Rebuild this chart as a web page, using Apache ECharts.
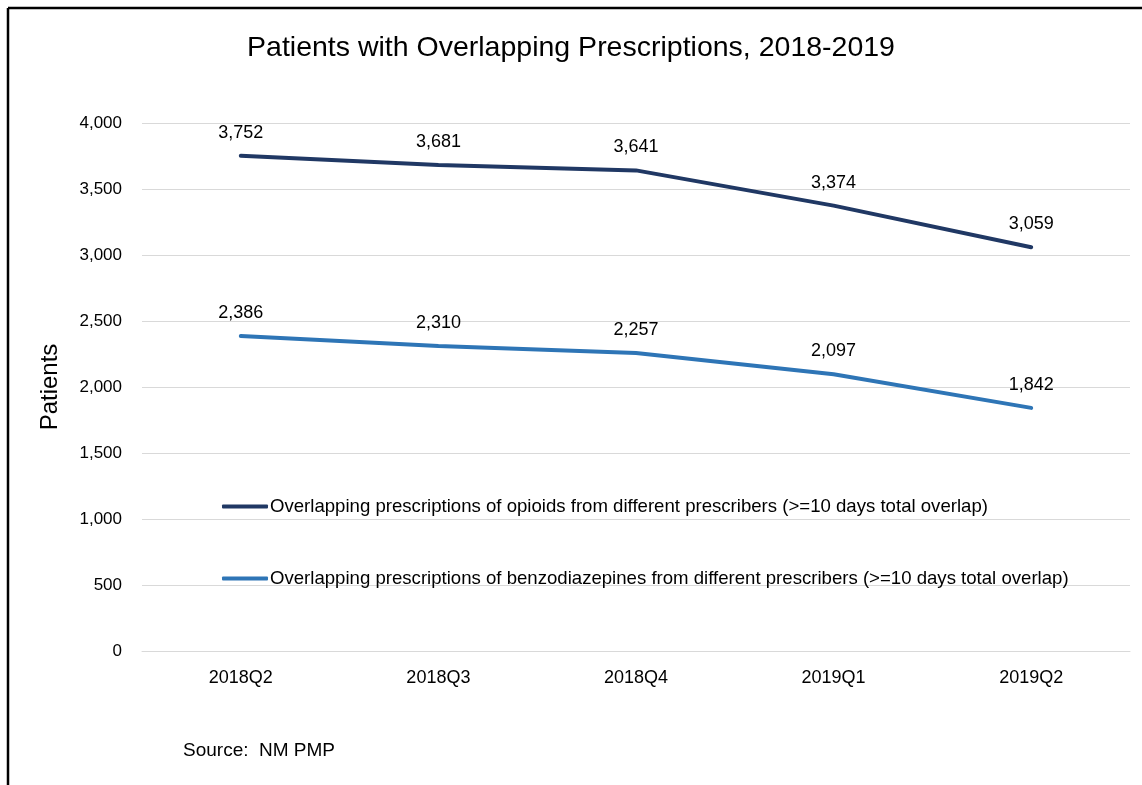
<!DOCTYPE html>
<html>
<head>
<meta charset="utf-8">
<script src="https://cdn.jsdelivr.net/npm/echarts@6/dist/echarts.min.js"></script>
<style>
  html, body { margin: 0; padding: 0; background: #fff; }
  #chart { width: 1142px; height: 785px; }
</style>
</head>
<body>
<div id="chart"></div>
<script>
// quarters on the x axis
const quarters = ['2018Q2', '2018Q3', '2018Q4', '2019Q1', '2019Q2']
const opioidName = 'Overlapping prescriptions of opioids from different prescribers (>=10 days total overlap)'
const benzoName = 'Overlapping prescriptions of benzodiazepines from different prescribers (>=10 days total overlap)'
const opioidValues = [3752, 3681, 3641, 3374, 3059]
const benzoValues = [2386, 2310, 2257, 2097, 1842]

const font = 'Liberation Sans'
const fmt = function (v) { return v.toLocaleString('en-US') }

let myChart = echarts.init(document.getElementById('chart'))
myChart.setOption({
  backgroundColor: '#fff',
  animation: false,
  textStyle: { fontFamily: font },
  title: {
    text: 'Patients with Overlapping Prescriptions, 2018-2019',
    left: 'center',
    top: 29,
    textStyle: { fontSize: 28.5, fontWeight: 'normal', color: '#000', fontFamily: font }
  },
  grid: { left: 142, right: 12, top: 123, bottom: 134, containLabel: false },
  legend: {
    orient: 'vertical',
    left: 217,
    top: 492,
    itemWidth: 46,
    itemHeight: 4,
    itemGap: 53,
    icon: 'roundRect',
    textStyle: { fontSize: 18.6, color: '#000', padding: [0, 0, 0, -3] },
    data: [opioidName, benzoName]
  },
  xAxis: {
    type: 'category',
    data: quarters,
    axisLine: { show: true, lineStyle: { color: '#d9d9d9' } },
    axisTick: { show: false },
    axisLabel: { color: '#000', fontSize: 18, margin: 18 }
  },
  yAxis: {
    type: 'value',
    min: 0,
    max: 4000,
    interval: 500,
    name: 'Patients',
    nameLocation: 'middle',
    nameGap: 80,
    nameTextStyle: { fontSize: 24, color: '#000' },
    axisLine: { show: false },
    axisTick: { show: false },
    axisLabel: { color: '#000', fontSize: 17, margin: 20, formatter: fmt },
    splitLine: { lineStyle: { color: '#d9d9d9', width: 1 } }
  },
  series: [
    {
      name: opioidName,
      type: 'line',
      data: opioidValues,
      color: '#203864',
      symbol: 'circle',
      symbolSize: 0.1,
      showSymbol: true,
      lineStyle: { width: 4, cap: 'round' },
      label: { show: true, position: 'top', distance: 14, fontSize: 18, color: '#000', formatter: function (p) { return fmt(p.value) } }
    },
    {
      name: benzoName,
      type: 'line',
      data: benzoValues,
      color: '#2e75b6',
      symbol: 'circle',
      symbolSize: 0.1,
      showSymbol: true,
      lineStyle: { width: 4, cap: 'round' },
      label: { show: true, position: 'top', distance: 14, fontSize: 18, color: '#000', formatter: function (p) { return fmt(p.value) } }
    }
  ],
  graphic: [
    { type: 'line', shape: { x1: 8, y1: 8, x2: 1142, y2: 8 }, style: { stroke: '#000', lineWidth: 2.5 } },
    { type: 'line', shape: { x1: 8, y1: 8, x2: 8, y2: 785 }, style: { stroke: '#000', lineWidth: 2.5 } },
    { type: 'text', left: 183, top: 741, style: { text: 'Source:  NM PMP', fontSize: 19, fill: '#000', fontFamily: font } }
  ]
})
</script>
</body>
</html>
